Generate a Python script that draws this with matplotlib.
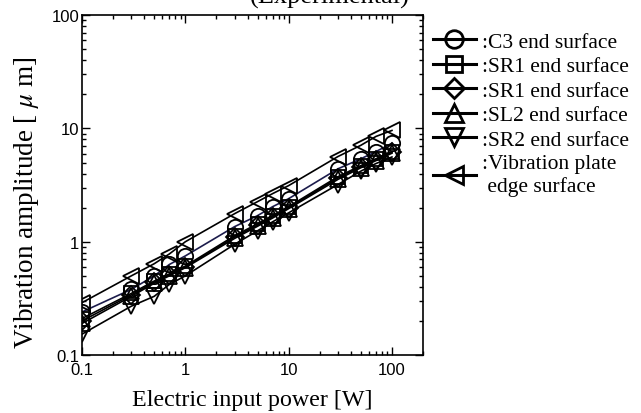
import matplotlib
matplotlib.use("Agg")
import matplotlib.pyplot as plt
from matplotlib.ticker import LogLocator, NullFormatter, FixedLocator, FixedFormatter

power = [0.1, 0.3, 0.5, 0.7, 1, 3, 5, 7, 10, 30, 50, 70, 100]

c3 = [0.24, 0.38, 0.50, 0.63, 0.75, 1.36, 1.70, 2.04, 2.40, 4.4, 5.4, 6.25, 7.4]
sr1_sq = [0.21, 0.35, 0.45, 0.52, 0.61, 1.13, 1.44, 1.70, 2.04, 3.75, 4.7, 5.4, 6.25]
sr1_dia = [0.20, 0.34, 0.44, 0.51, 0.60, 1.10, 1.40, 1.66, 2.00, 3.65, 4.6, 5.3, 6.15]
sl2 = [0.19, 0.33, 0.43, 0.50, 0.59, 1.07, 1.37, 1.62, 1.96, 3.55, 4.5, 5.2, 6.05]
sr2 = [0.153, 0.27, 0.33, 0.42, 0.50, 0.95, 1.25, 1.50, 1.80, 3.2, 4.2, 4.9, 5.6]
plate = [0.29, 0.50, 0.64, 0.78, 1.00, 1.77, 2.26, 2.66, 3.13, 5.65, 7.1, 8.5, 9.6]

labels = [":C3 end surface", ":SR1 end surface", ":SR1 end surface",
          ":SL2 end surface", ":SR2 end surface", ":Vibration plate\n edge surface"]
tick_vals = [0.1, 1, 10, 100]
tick_text = ['0.1', '1', '10', '100']

plt.rcParams['font.family'] = ['Liberation Serif', 'DejaVu Serif']
plt.rcParams['mathtext.fontset'] = 'stix'

fig = plt.figure(figsize=(6.41, 4.14), dpi=100)
ax = fig.add_axes([0.128, 0.14, 0.532, 0.821])

series = [c3, sr1_sq, sr1_dia, sl2, sr2, plate]
markers = ['o', 's', 'D', '^', 'v', '<']
colors = ['#1c1c4c', 'black', 'black', 'black', 'black', 'black']
msizes = [11, 10, 9, 11, 11, 11]

for ys, m, c, ms, lab in zip(series, markers, colors, msizes, labels):
    ax.plot(power, ys, color=c, lw=1.2, marker=m, ms=ms, mfc='none',
            mec='black', mew=1.3, label=lab)

ax.set_xscale('log')
ax.set_yscale('log')
ax.set_xlim(0.1, 200)
ax.set_ylim(0.1, 100)

ax.xaxis.set_major_locator(FixedLocator(tick_vals))
ax.xaxis.set_major_formatter(FixedFormatter(tick_text))
ax.yaxis.set_major_locator(FixedLocator(tick_vals))
ax.yaxis.set_major_formatter(FixedFormatter(tick_text))
ax.xaxis.set_minor_locator(LogLocator(base=10, subs=range(2, 10)))
ax.yaxis.set_minor_locator(LogLocator(base=10, subs=range(2, 10)))
ax.xaxis.set_minor_formatter(NullFormatter())
ax.yaxis.set_minor_formatter(NullFormatter())
for t in ax.get_xticklabels() + ax.get_yticklabels():
    t.set_fontfamily('Liberation Sans')
    t.set_fontsize(12)

ax.tick_params(which='both', direction='in', top=True, right=True, width=1)
ax.tick_params(which='major', length=6, pad=2)
ax.tick_params(axis='x', which='major', pad=5)
ax.tick_params(which='minor', length=3)
for s in ax.spines.values():
    s.set_linewidth(1.2)

ax.set_xlabel("Electric input power [W]", fontsize=17.3, labelpad=9)
ax.set_ylabel("Vibration amplitude [ $\\mu$ m]", fontsize=19.5)
ax.yaxis.set_label_coords(-0.12, 0.453)

fig.text(0.515, 0.978, "(Experimental)", fontsize=19, ha='center', va='bottom')

leg = ax.legend(loc='upper left', bbox_to_anchor=(0.99, 0.99), frameon=False,
                fontsize=15.5, handlelength=2.0, handletextpad=0.3,
                labelspacing=0.21, borderaxespad=0.2, markerscale=1.15)
for h in leg.legend_handles:
    h.set_linewidth(2.2)
    h.set_color('black')
    h.set_markeredgewidth(2)

fig.savefig("out.png", dpi=100)
